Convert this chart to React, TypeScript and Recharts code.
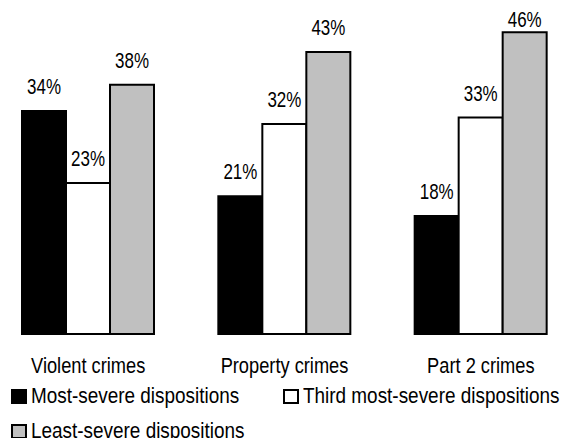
import { BarChart, Bar, XAxis, YAxis, Legend, LabelList } from 'recharts'

const categories = ['Violent crimes', 'Property crimes', 'Part 2 crimes']
const mostSevere = [34, 21, 18]
const thirdMostSevere = [23, 32, 33]
const leastSevere = [38, 43, 46]

const seriesNames = [
  'Most-severe dispositions',
  'Third most-severe dispositions',
  'Least-severe dispositions',
]

const data = categories.map((name, i) => ({
  name,
  most: mostSevere[i],
  third: thirdMostSevere[i],
  least: leastSevere[i],
}))

// no narrow font installed, so Liberation Sans gets squeezed horizontally
const FONT = '"Liberation Sans", Arial, sans-serif'

// legend items sit on a two column grid, third one wraps to a new row
const legendSlots = [
  { left: 21, top: 0 },
  { left: 293, top: 0 },
  { left: 21, top: 35 },
]

const CustomLegend = ({ payload }: { payload?: { value: string; color: string }[] }) => {
  if (!payload) return null
  return (
    <div style={{ position: 'relative', height: 54, fontFamily: FONT, fontSize: 22, color: '#000' }}>
      {seriesNames.map((name, i) => {
        const entry = payload.find(p => p.value === name)
        return (
          <div
            key={name}
            style={{
              position: 'absolute', left: legendSlots[i].left, top: legendSlots[i].top,
              display: 'flex', alignItems: 'center', gap: 4, lineHeight: '24px', whiteSpace: 'nowrap',
            }}
          >
            <span style={{
              width: 12, height: 11, border: '2px solid #000', background: entry?.color, display: 'inline-block',
            }} />
            <span style={{ display: 'inline-block', transform: 'scaleX(0.86)', transformOrigin: 'left center' }}>
              {name}
            </span>
          </div>
        )
      })}
    </div>
  )
}

const CondensedTick = ({ x, y, payload }: { x?: number; y?: number; payload?: { value: string } }) => (
  <text
    transform={`translate(${x},${y}) scale(0.83,1)`}
    textAnchor="middle"
    dy={15}
    fill="#000"
    fontSize={22}
    fontFamily={FONT}
  >
    {payload?.value}
  </text>
)

const ValueLabel = (props: { x?: number; y?: number; width?: number; value?: number }) => {
  const { x = 0, y = 0, width = 0, value } = props
  const ty = Math.max(Number(y) - 17, 27)
  return (
    <text
      transform={`translate(${Number(x) + Number(width) / 2},${ty}) scale(0.77,1)`}
      textAnchor="middle"
      fill="#000"
      fontSize={22}
      fontFamily={FONT}
    >
      {`${value}%`}
    </text>
  )
}

export default function App() {
  return (
    <div style={{ marginLeft: -10, width: 589, height: 438 }}>
      <style>{'body{margin:0}'}</style>
      <BarChart
        width={589}
        height={438}
        data={data}
        margin={{ top: 6, right: 0, bottom: 0, left: 0 }}
        barGap={0}
        barSize={44}
      >
        <XAxis
          dataKey="name"
          axisLine={false}
          tickLine={false}
          height={50}
          tickMargin={18}
          tick={<CondensedTick />}
        />
        <YAxis hide domain={[0, 50]} />
        <Legend verticalAlign="bottom" height={54} content={<CustomLegend />} />
        <Bar dataKey="most" name={seriesNames[0]} fill="#000000" stroke="#000" strokeWidth={2} isAnimationActive={false}>
          <LabelList dataKey="most" content={<ValueLabel />} />
        </Bar>
        <Bar dataKey="third" name={seriesNames[1]} fill="#ffffff" stroke="#000" strokeWidth={2} isAnimationActive={false}>
          <LabelList dataKey="third" content={<ValueLabel />} />
        </Bar>
        <Bar dataKey="least" name={seriesNames[2]} fill="#c0c0c0" stroke="#000" strokeWidth={2} isAnimationActive={false}>
          <LabelList dataKey="least" content={<ValueLabel />} />
        </Bar>
      </BarChart>
    </div>
  )
}
